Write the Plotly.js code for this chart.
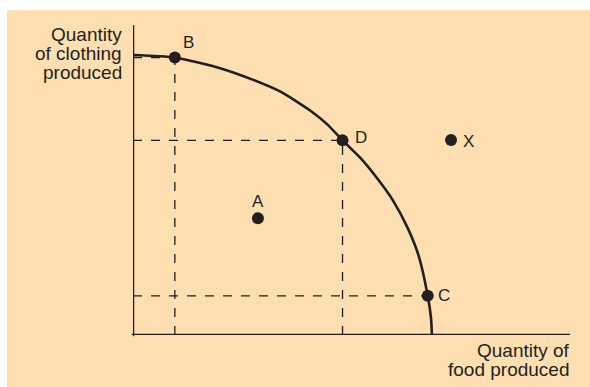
<!DOCTYPE html>
<html>
<head>
<meta charset="utf-8">
<script src="https://cdn.plot.ly/plotly-3.0.1.min.js"></script>
<style>
  html, body { margin: 0; padding: 0; background: #ffffff; width: 590px; height: 387px; overflow: hidden; }
  #chart { position: absolute; left: 7px; top: 10px; width: 583px; height: 377px; }
</style>
</head>
<body>
<div id="chart"></div>
<script>
// Production possibilities frontier
var frontierFood     = [0, 1.40, 2.94, 4.00, 4.95, 5.95, 6.50, 7.01, 7.60, 8.20, 8.70, 9.20, 9.55, 9.86, 9.97, 10.0];
var frontierClothing = [10.0, 9.91, 9.52, 9.12, 8.68, 8.00, 7.52, 6.95, 6.33, 5.55, 4.80, 3.80, 2.85, 1.40, 0.60, 0];

// Labelled points
var pointNames    = ['B', 'D', 'C', 'A', 'X'];
var pointFood     = [1.40, 7.01, 9.86, 4.18, 10.64];
var pointClothing = [9.91, 6.95, 1.40, 4.17, 6.96];

// Points with dashed guide lines
var horizontalGuides = ['B', 'D', 'C'];
var verticalGuides   = ['B', 'D'];

// Axis labels
var yLabelLines = ['Quantity', 'of clothing', 'produced'];
var xLabelLines = ['Quantity of', 'food produced'];

var ink = '#231f20';
var font = 'Liberation Sans, Arial, Helvetica, sans-serif';

var traces = [];

// dashed guides (drawn from the axis toward the point)
verticalGuides.forEach(function (name) {
  var i = pointNames.indexOf(name);
  traces.push({ x: [pointFood[i], pointFood[i]], y: [0, pointClothing[i]], mode: 'lines', hoverinfo: 'skip',
    line: { color: ink, width: 1.3, dash: 'dash' }, showlegend: false });
});
horizontalGuides.forEach(function (name) {
  var i = pointNames.indexOf(name);
  traces.push({ x: [0, pointFood[i]], y: [pointClothing[i], pointClothing[i]], mode: 'lines', hoverinfo: 'skip',
    line: { color: ink, width: 1.3, dash: 'dash' }, showlegend: false });
});

// frontier curve
traces.push({ x: frontierFood, y: frontierClothing, mode: 'lines',
  line: { color: ink, width: 2.6, shape: 'spline', smoothing: 0.6 }, showlegend: false });

// points
traces.push({ x: pointFood, y: pointClothing, mode: 'markers',
  marker: { color: ink, size: 12 }, showlegend: false });

// point label offsets (pixels)
var labelShift = { B: [14, 15], D: [18, 3], C: [16, 0], A: [0, 17], X: [17, -1] };

var annotations = pointNames.map(function (n, i) {
  return { x: pointFood[i], y: pointClothing[i], xref: 'x', yref: 'y', text: n, showarrow: false,
    xanchor: 'center', yanchor: 'middle', xshift: labelShift[n][0], yshift: labelShift[n][1],
    font: { family: font, size: 17, color: ink } };
});

var yLabelY = [0.9687, 0.9074, 0.8477];
yLabelLines.forEach(function (t, i) {
  annotations.push({ x: -0.0215, y: yLabelY[i], xref: 'paper', yref: 'paper', text: t, showarrow: false,
    xanchor: 'right', yanchor: 'middle', font: { family: font, size: 19, color: ink } });
});
var xLabelY = [-0.0506, -0.1119];
xLabelLines.forEach(function (t, i) {
  annotations.push({ x: 1.005, y: xLabelY[i], xref: 'paper', yref: 'paper', text: t, showarrow: false,
    xanchor: 'right', yanchor: 'middle', font: { family: font, size: 19, color: ink } });
});

var layout = {
  width: 583, height: 377,
  margin: { l: 126, r: 20, t: 15, b: 52, pad: 0 },
  paper_bgcolor: '#FDDFB1', plot_bgcolor: 'rgba(0,0,0,0)',
  xaxis: { range: [0, 14.62], showgrid: false, zeroline: false, showticklabels: false, ticks: '', showline: false, fixedrange: true },
  yaxis: { range: [0, 11.07], showgrid: false, zeroline: false, showticklabels: false, ticks: '', showline: false, fixedrange: true },
  shapes: [
    { type: 'line', xref: 'x', yref: 'paper', x0: 0, x1: 0, y0: -0.004, y1: 1, line: { color: ink, width: 2.5 } },
    { type: 'line', xref: 'paper', yref: 'y', x0: -0.003, x1: 1, y0: 0, y1: 0, line: { color: ink, width: 2.5 } }
  ],
  annotations: annotations,
  showlegend: false
};

Plotly.newPlot('chart', traces, layout, { displayModeBar: false, staticPlot: true });
</script>
</body>
</html>
